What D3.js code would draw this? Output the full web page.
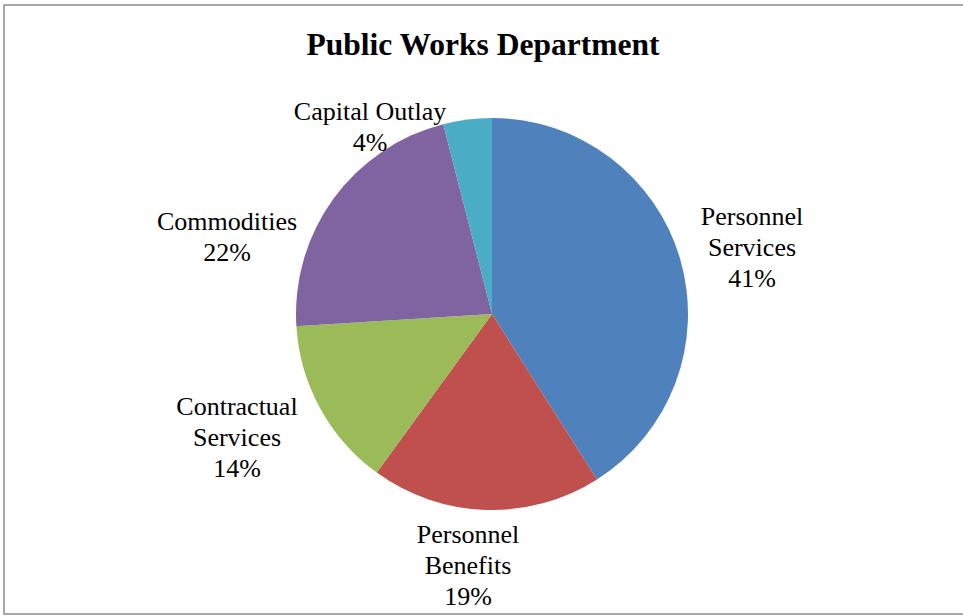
<!DOCTYPE html>
<html>
<head>
<meta charset="utf-8">
<script src="https://cdn.jsdelivr.net/npm/d3@7"></script>
<style>
  html, body { margin: 0; padding: 0; background: #fff; }
  svg { display: block; }
</style>
</head>
<body>
<svg id="chart" width="963" height="616"></svg>
<script>
// Budget share by expense category
const categories = ["Personnel Services", "Personnel Benefits", "Contractual Services", "Commodities", "Capital Outlay"];
const values = [41, 19, 14, 22, 4];
const colors = ["#4F81BD", "#C0504D", "#9BBB59", "#8064A2", "#4BACC6"];
// Label text split into lines, with where each label block sits
const labelLines = [
  ["Personnel", "Services"],
  ["Personnel", "Benefits"],
  ["Contractual", "Services"],
  ["Commodities"],
  ["Capital Outlay"]
];
const labelPos = [
  [752, 225],
  [468, 543],
  [237, 415],
  [227, 230],
  [370, 120]
];
const title = "Public Works Department";

const svg = d3.select("#chart");
const W = 963, H = 616;
const font = "'Liberation Serif', 'Times New Roman', serif";

// Outer frame (right side runs past the canvas)
svg.append("rect")
  .attr("x", 4).attr("y", 5)
  .attr("width", 970).attr("height", 609)
  .attr("fill", "#fff")
  .attr("stroke", "#8c8c8c")
  .attr("stroke-width", 1.5);

svg.append("text")
  .attr("x", 483).attr("y", 55)
  .attr("text-anchor", "middle")
  .attr("font-family", font)
  .attr("font-weight", "bold")
  .attr("font-size", 31.5)
  .attr("fill", "#000")
  .text(title);

const cx = 492, cy = 314, r = 196;
const pie = d3.pie().sort(null).value(d => d);
const arc = d3.arc().innerRadius(0).outerRadius(r);
const color = d3.scaleOrdinal().domain(categories).range(colors);

const g = svg.append("g").attr("transform", `translate(${cx},${cy})`);
g.selectAll("path")
  .data(pie(values))
  .join("path")
  .attr("d", arc)
  .attr("fill", (d, i) => color(categories[i]));

// Category labels with their percentages
const fmt = d3.format(".0%");
const total = d3.sum(values);
const lineH = 31;
categories.forEach((c, i) => {
  const lines = labelLines[i].concat([fmt(values[i] / total)]);
  const t = svg.append("text")
    .attr("text-anchor", "middle")
    .attr("font-family", font)
    .attr("font-size", 26)
    .attr("fill", "#000");
  lines.forEach((ln, k) => {
    t.append("tspan")
      .attr("x", labelPos[i][0])
      .attr("y", labelPos[i][1] + k * lineH)
      .text(ln);
  });
});
</script>
</body>
</html>
